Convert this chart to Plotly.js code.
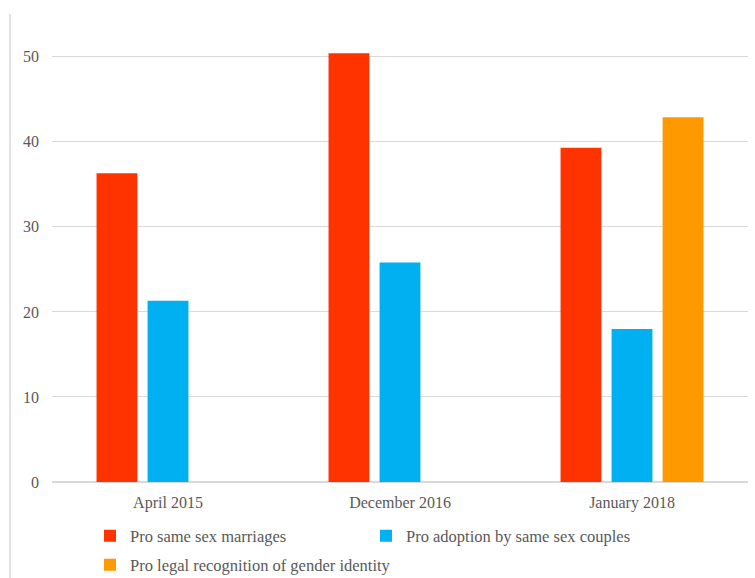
<!DOCTYPE html>
<html>
<head>
<meta charset="utf-8">
<script src="https://cdn.plot.ly/plotly-3.0.1.min.js"></script>
<style>html,body{margin:0;padding:0;background:#fff;}#chart{width:755px;height:578px;}</style>
</head>
<body>
<div id="chart"></div>
<script>
const categories = ["April 2015", "December 2016", "January 2018"];
const seriesNames = ["Pro same sex marriages", "Pro adoption by same sex couples", "Pro legal recognition of gender identity"];
const marriages = [36.3, 50.4, 39.3];
const adoption = [21.3, 25.8, 18.0];
const genderIdentity = [null, null, 42.9];
const yTicks = [0, 10, 20, 30, 40, 50];

const colors = ["#FF3300", "#00B0F0", "#FF9900"];
const font = {family: "Liberation Serif, Times New Roman, serif", size: 16, color: "#595959"};
const legendFont = {family: "Liberation Serif, Times New Roman, serif", size: 16.5, color: "#595959"};

const traces = [
  {type: "bar", name: seriesNames[0], x: categories, y: marriages, marker: {color: colors[0]}, legend: "legend"},
  {type: "bar", name: seriesNames[1], x: categories, y: adoption, marker: {color: colors[1]}, legend: "legend"},
  {type: "bar", name: seriesNames[2], x: categories, y: genderIdentity, marker: {color: colors[2]}, legend: "legend2"}
];

const layout = {
  width: 755, height: 578,
  margin: {l: 52, r: 7, t: 10, b: 96, autoexpand: false},
  paper_bgcolor: "#ffffff", plot_bgcolor: "#ffffff",
  font: font,
  barmode: "group",
  bargap: 0.34,
  bargroupgap: 0.2,
  showlegend: true,
  xaxis: {
    type: "category", automargin: false,
    showgrid: false, showline: false, zeroline: false,
    ticks: "", tickfont: font, ticklabelstandoff: 9
  },
  yaxis: {
    range: [0, 55.5], automargin: false,
    tickvals: yTicks,
    showgrid: true, gridcolor: "#D9D9D9", gridwidth: 1,
    zeroline: true, zerolinecolor: "#D9D9D9", zerolinewidth: 1.5,
    showline: false, ticks: "", tickfont: font, ticklabelstandoff: 12
  },
  legend: {
    orientation: "h", x: 0.1192, xanchor: "left", y: 0.0727, yanchor: "middle",
    xref: "container", yref: "container",
    font: legendFont, entrywidth: 231, entrywidthmode: "pixels",
    bgcolor: "rgba(0,0,0,0)", itemclick: false
  },
  legend2: {
    orientation: "h", x: 0.1192, xanchor: "left", y: 0.0225, yanchor: "middle",
    xref: "container", yref: "container",
    font: legendFont, bgcolor: "rgba(0,0,0,0)", itemclick: false
  },
  shapes: [
    {type: "line", xref: "paper", yref: "paper", x0: -0.0603, x1: -0.0603, y0: 0.9915, y1: -0.21,
     line: {color: "#D9D9D9", width: 1.5}}
  ]
};

Plotly.newPlot("chart", traces, layout, {displayModeBar: false, staticPlot: true});
</script>
</body>
</html>
